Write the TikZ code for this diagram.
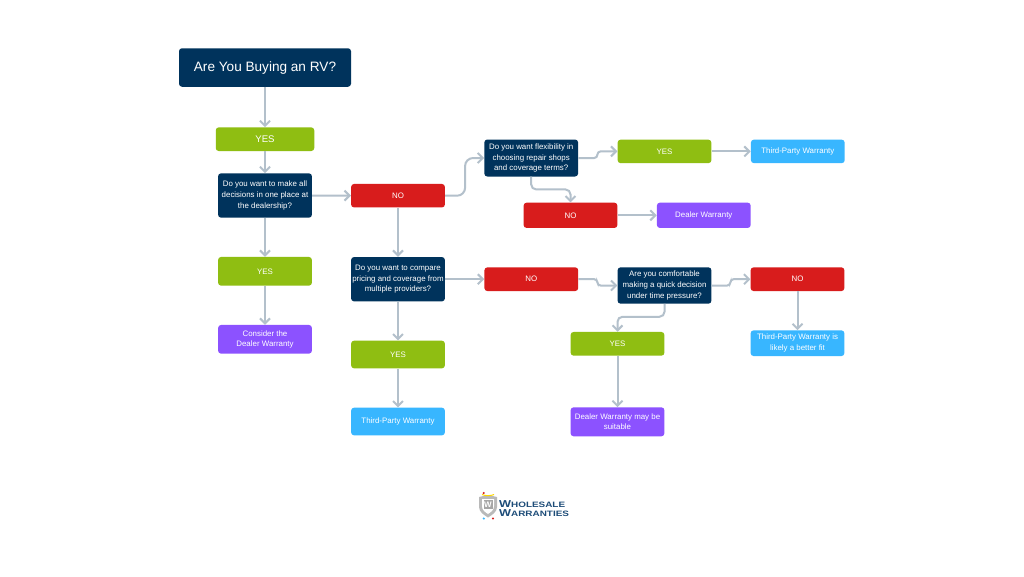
\documentclass[tikz,border=0pt]{standalone}
\usepackage{fontspec}
\setmainfont{Liberation Sans}
\newfontfamily\logofont[FakeStretch=1.27]{Liberation Sans}
\usetikzlibrary{arrows.meta}
\definecolor{navybox}{HTML}{00335C}
\definecolor{greenbox}{HTML}{8FBE12}
\definecolor{redbox}{HTML}{D81C1C}
\definecolor{bluebox}{HTML}{38B6FF}
\definecolor{purplebox}{HTML}{8C52FF}
\definecolor{connline}{HTML}{B3C0CB}
\definecolor{logotext}{HTML}{1D4C78}
\tikzset{
    flowbox/.style={rectangle,rounded corners=3pt,inner sep=0pt,text=white,align=center,
        minimum width=93.8pt,font=\fontsize{7.9}{10.6}\selectfont},
    question/.style={flowbox,fill=navybox},
    yesbox/.style={flowbox,fill=greenbox},
    nobox/.style={flowbox,fill=redbox},
    thirdbox/.style={flowbox,fill=bluebox},
    dealerbox/.style={flowbox,fill=purplebox},
    conn/.style={draw=connline,line width=2pt,-{Straight Barb[length=5pt,width=10pt,line width=2pt]}},
    dot/.style={circle,inner sep=0pt,minimum size=2.4pt},
    logoword/.style={inner sep=0pt,anchor=west,text=logotext,font=\bfseries\logofont}
}
\begin{document}
\begin{tikzpicture}[x=1pt,y=-1pt]
    \useasboundingbox[fill=white] (0,0) rectangle (1024,576);
    % first column
    \node[question,minimum width=172pt,minimum height=38.5pt,font=\fontsize{13.6}{17}\selectfont] (title) at (265,67.5) {Are You Buying an RV?};
    \node[yesbox,minimum width=98.5pt,minimum height=23.7pt,font=\fontsize{9.6}{12}\selectfont] (yesa) at (265,139.2) {YES};
    \node[question,minimum height=44.4pt] (decide) at (265,195.5) {Do you want to make all\\decisions in one place at\\the dealership?};
    \node[yesbox,minimum height=28.7pt] (yesb) at (265,271.3) {YES};
    \node[dealerbox,minimum height=28.7pt] (consider) at (265,339.3) {Consider the\\Dealer Warranty};
    % second column
    \node[nobox,minimum height=23.5pt] (noa) at (398,195.7) {NO};
    \node[question,minimum height=44.4pt] (compare) at (398,279.2) {Do you want to compare\\pricing and coverage from\\multiple providers?};
    \node[yesbox,minimum height=27.7pt] (yesc) at (398,354.5) {YES};
    \node[thirdbox,minimum height=27.7pt] (thirda) at (398,421.5) {Third-Party Warranty};
    % upper branch
    \node[question,minimum height=37pt] (flex) at (531.2,158) {Do you want flexibility in\\choosing repair shops\\and coverage terms?};
    \node[yesbox,minimum height=23.5pt] (yesd) at (664.5,151.4) {YES};
    \node[thirdbox,minimum height=23.5pt] (thirdb) at (797.8,151.4) {Third-Party Warranty};
    \node[nobox,minimum height=25.3pt] (nob) at (570.5,215.3) {NO};
    \node[dealerbox,minimum height=25.3pt] (dealera) at (703.8,215.3) {Dealer Warranty};
    % lower branch
    \node[nobox,minimum height=23.7pt] (noc) at (531.3,279.2) {NO};
    \node[question,minimum height=36.4pt] (quick) at (664.5,285.5) {Are you comfortable\\making a quick decision\\under time pressure?};
    \node[nobox,minimum height=23.7pt] (nod) at (797.5,279.2) {NO};
    \node[yesbox,minimum height=23.7pt] (yese) at (617.5,343.8) {YES};
    \node[dealerbox,minimum height=29pt] (dealerb) at (617.5,421.8) {Dealer Warranty may be\\suitable};
    \node[thirdbox,minimum height=25.7pt] (thirdc) at (797.5,343.2) {Third-Party Warranty is\\likely a better fit};
    % straight connectors
    \foreach \a/\b in {title/yesa,yesa/decide,decide/yesb,yesb/consider,decide/noa,noa/compare,
        compare/yesc,yesc/thirda,compare/noc,yesd/thirdb,nob/dealera,yese/dealerb,nod/thirdc}
        \draw[conn] (\a) -- (\b);
    % bent connectors
    \draw[conn,rounded corners=8pt] (noa.east) -| ([xshift=-19pt]flex.west) -- (flex.west);
    \draw[conn,rounded corners=3.2pt] (flex.east) -| ([xshift=-20pt]yesd.west) -- (yesd.west);
    \draw[conn,rounded corners=5pt] (flex.south) |- ([yshift=13pt]nob.north) -- (nob.north);
    \draw[conn,rounded corners=3.2pt] (noc.east) -| ([xshift=-20pt]quick.west) -- (quick.west);
    \draw[conn,rounded corners=3.2pt] (quick.east) -| ([xshift=-20pt]nod.west) -- (nod.west);
    \draw[conn,rounded corners=5pt] (quick.south) |- ([yshift=15pt]yese.north) -- (yese.north);
    % logo
    \fill[gray!55] (479,497) -- (488,495) -- (497,497) -- (497,507) .. controls (497,512) and (492,515) .. (488,517.5)
        .. controls (484,515) and (479,512) .. (479,507) -- cycle;
    \fill[white] (482,499) -- (494,499) -- (494,506) .. controls (494,510) and (491,512) .. (488,514)
        .. controls (485,512) and (482,510) .. (482,506) -- cycle;
    \fill[gray!70] (483.5,500) rectangle (492.5,509);
    \node[inner sep=0pt,text=white,font=\bfseries\fontsize{8}{8}\selectfont] (shieldw) at (488,504.5) {W};
    \draw[yellow!75!orange,line width=1pt] (482,494.5) .. controls (485,496) and (491,496) .. (494,494.5);
    \node[dot,fill=redbox] (dota) at (483.7,493) {};
    \node[dot,fill=redbox] (dotb) at (493,518.5) {};
    \node[dot,fill=bluebox] (dotc) at (483.8,518.5) {};
    \node[logoword] (wholesale) at (499,504) {\fontsize{10}{10}\selectfont W\fontsize{7.8}{10}\selectfont HOLESALE};
    \node[logoword] (warranties) at (499,513.5) {\fontsize{10}{10}\selectfont W\fontsize{7.8}{10}\selectfont ARRANTIES};
\end{tikzpicture}
\end{document}
